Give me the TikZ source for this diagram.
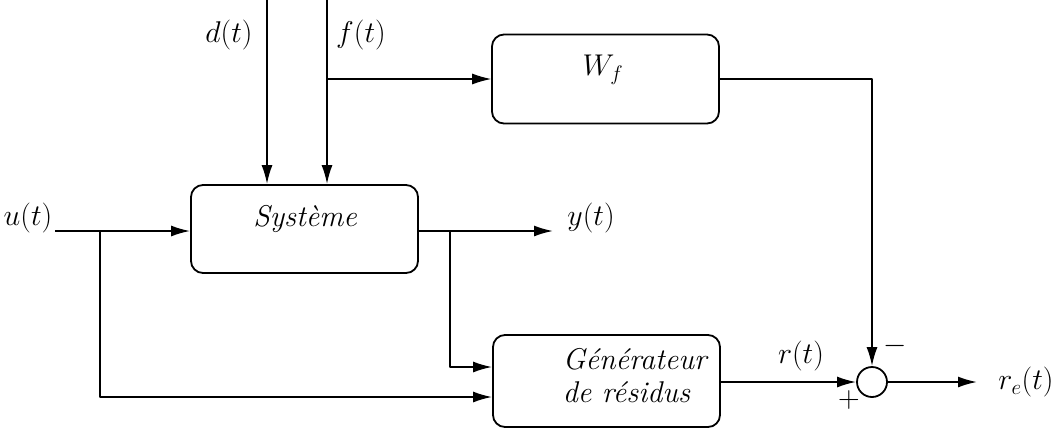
\RequirePackage{fix-cm}
\documentclass[tikz,border=0pt]{standalone}
\usetikzlibrary{arrows.meta}
\begin{document}
\begin{tikzpicture}[>={Latex[length=19pt,width=11pt]},line join=round,x=1pt,y=-1pt,line width=1.8pt,
		font=\fontsize{30}{33}\selectfont\itshape,
		bloc/.style={draw,rounded corners=12pt,minimum width=227pt,inner sep=0pt},
		lbl/.style={inner sep=0pt}]
	\useasboundingbox (0,0) rectangle (1058,432);
	% blocs
	\node[bloc,minimum height=88pt] (sys) at (304.5,229) {};
	\node[bloc,minimum height=89pt] (wf) at (605.5,79) {};
	\node[bloc,minimum height=92pt] (gen) at (606.5,381) {};
	\node[draw,circle,minimum size=30pt,inner sep=0pt] (sum) at (872,382) {};
	\node[lbl] (tsys) at (305,219) {Système};
	\node[lbl] (twf) at (603,70) {$W_f$};
	\node[lbl,align=left,anchor=north west] (tgen) at (562,347) {Générateur\\de résidus};
	% points
	\coordinate (din) at (267,0);
	\coordinate (fin) at (327,0);
	\coordinate (fb) at (327,79);
	\coordinate (uin) at (55,231);
	\coordinate (ub) at (100,231);
	\coordinate (yb) at (450,231);
	\coordinate (yout) at (553,231);
	\coordinate (reout) at (977,382);
	% connexions
	\draw[->] (din) -- (din |- sys.north);
	\draw[->] (fin) -- (fin |- sys.north);
	\draw[->,line width=1.1pt] (fb) -- (wf.west |- fb);
	\draw[->] (uin) -- (sys.west |- uin);
	\draw[->] (sys.east |- yout) -- (yout);
	\draw[->] (ub) |- (gen.west |- 0,397);
	\draw[->] (yb) |- (gen.west |- 0,367);
	\draw[->] (gen.east |- sum) -- (sum.west);
	\draw[->] (wf.east |- fb) -| (sum.north);
	\draw[->] (sum.east) -- (reout);
	% textes
	\node[lbl] (ld) at (229,35) {$d(t)$};
	\node[lbl] (lf) at (361,35) {$f(t)$};
	\node[lbl] (lu) at (28,218) {$u(t)$};
	\node[lbl] (ly) at (591,218) {$y(t)$};
	\node[lbl] (lr) at (801,356) {$r(t)$};
	\node[lbl] (lre) at (1026,382) {$r_e(t)$};
	\node[lbl] (lm) at (895,346) {$-$};
	\node[lbl] (lp) at (849,400) {$+$};
\end{tikzpicture}
\end{document}
